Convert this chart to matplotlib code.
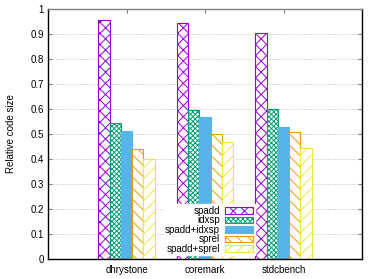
import matplotlib
matplotlib.use("Agg")
import matplotlib.pyplot as plt
import numpy as np

plt.rcParams['font.family'] = ['Liberation Sans', 'DejaVu Sans']
plt.rcParams['hatch.linewidth'] = 0.7

categories = ["dhrystone", "coremark", "stdcbench"]
series_names = ["spadd", "idxsp", "spadd+idxsp", "sprel", "spadd+sprel"]
spadd = [0.955, 0.944, 0.904]
idxsp = [0.545, 0.596, 0.600]
spadd_idxsp = [0.512, 0.567, 0.528]
sprel = [0.439, 0.499, 0.509]
spadd_sprel = [0.400, 0.468, 0.444]
yticks = [0, 0.1, 0.2, 0.3, 0.4, 0.5, 0.6, 0.7, 0.8, 0.9, 1]
ytick_labels = ["0", "0.1", "0.2", "0.3", "0.4", "0.5", "0.6", "0.7", "0.8", "0.9", "1"]

series = [spadd, idxsp, spadd_idxsp, sprel, spadd_sprel]
colors = ["#9400D3", "#009E73", "#56B4E9", "#E69F00", "#F0E442"]
hatches = ["xxx", "xxxxxxx", None, "\\\\\\", "///"]

fig = plt.figure(figsize=(3.79, 2.79), dpi=100)
ax = fig.add_axes([48/379, 20/279, 314/379, 250/279])

x = np.arange(1, len(categories) + 1)
w = 0.143
fs = 7
for i, (vals, c, h, name) in enumerate(zip(series, colors, hatches, series_names)):
    off = (i - 2) * w
    if h is None:
        ax.bar(x + off, vals, w, facecolor=c, edgecolor=c, linewidth=0.8, label=name, zorder=2)
    else:
        ax.bar(x + off, vals, w, facecolor="white", edgecolor=c, hatch=h, linewidth=0.8, label=name, zorder=2)

ax.set_xlim(0, 4)
ax.set_ylim(0, 1)
ax.set_xticks(x)
ax.set_xticklabels(categories, fontsize=fs)
ax.set_yticks(yticks)
ax.set_yticklabels(ytick_labels, fontsize=fs)
ax.yaxis.grid(True, color="#c0c0c0", linestyle=(0, (1, 1.5)), linewidth=0.7, zorder=0)
ax.set_axisbelow(True)
ax.tick_params(axis='y', direction='in', left=True, right=True, length=3, color='#808080', pad=3)
ax.tick_params(axis='x', direction='in', bottom=False, top=True, length=3, color='#808080', pad=4)
ax.spines['top'].set_color('#808080')
for s in ['left', 'bottom', 'right']:
    ax.spines[s].set_color('black')
for s in ax.spines.values():
    s.set_linewidth(1.0)
ax.set_ylabel("Relative code size", fontsize=fs, labelpad=10)

leg = ax.legend(loc='lower right', bbox_to_anchor=(0.658, 0.015), fontsize=fs,
                markerfirst=False, frameon=True, fancybox=False, framealpha=1,
                edgecolor='white', handlelength=2.9, handleheight=0.65,
                labelspacing=-0.05, borderpad=0.15, handletextpad=0.5, borderaxespad=0)
leg.set_zorder(5)

fig.savefig("out.png", dpi=100)
